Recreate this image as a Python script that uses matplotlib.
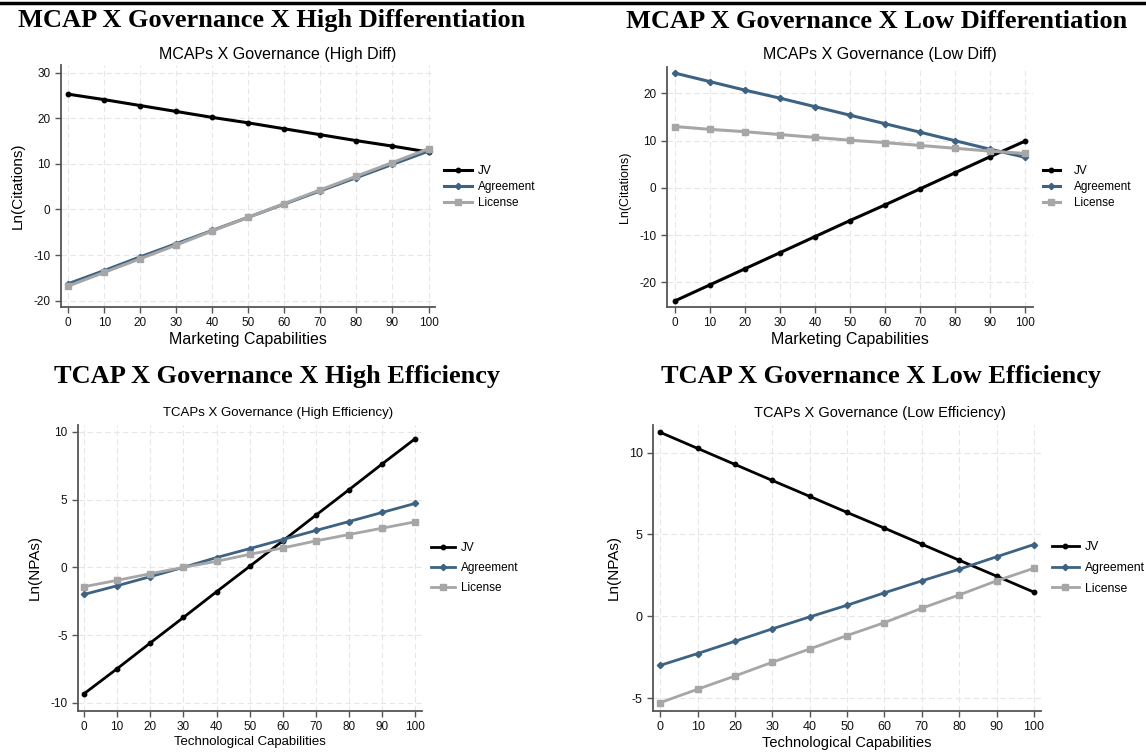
#!/usr/bin/env python3

import matplotlib
matplotlib.use("Agg")
import matplotlib.pyplot as plt
from matplotlib import font_manager
from matplotlib.lines import Line2D

x = [0, 10, 20, 30, 40, 50, 60, 70, 80, 90, 100]

# MCAP x Governance, high differentiation
hd_jv = [25.3, 24.1, 22.8, 21.5, 20.2, 19.0, 17.7, 16.4, 15.1, 13.9, 12.6]
hd_agreement = [-16.3, -13.4, -10.4, -7.5, -4.6, -1.7, 1.2, 4.1, 7.0, 9.9, 12.8]
hd_license = [-16.8, -13.8, -10.8, -7.8, -4.7, -1.7, 1.3, 4.3, 7.3, 10.3, 13.3]

# MCAP x Governance, low differentiation
ld_jv = [-23.9, -20.5, -17.1, -13.7, -10.3, -6.9, -3.6, -0.2, 3.2, 6.6, 9.9]
ld_agreement = [24.3, 22.5, 20.7, 19.0, 17.2, 15.4, 13.6, 11.8, 10.0, 8.2, 6.5]
ld_license = [13.0, 12.4, 11.9, 11.3, 10.7, 10.1, 9.6, 9.0, 8.4, 7.8, 7.3]

# TCAP x Governance, high efficiency
he_jv = [-9.33, -7.48, -5.58, -3.70, -1.80, 0.07, 1.95, 3.85, 5.73, 7.63, 9.5]
he_agreement = [-2.0, -1.36, -0.69, 0.0, 0.72, 1.38, 2.05, 2.72, 3.38, 4.05, 4.72]
he_license = [-1.43, -0.96, -0.47, 0.0, 0.44, 0.96, 1.43, 1.95, 2.42, 2.89, 3.36]

# TCAP x Governance, low efficiency
le_jv = [11.23, 10.25, 9.27, 8.29, 7.32, 6.34, 5.38, 4.40, 3.42, 2.45, 1.47]
le_agreement = [-3.0, -2.28, -1.53, -0.77, -0.04, 0.67, 1.43, 2.16, 2.87, 3.63, 4.38]
le_license = [-5.28, -4.46, -3.65, -2.81, -2.0, -1.18, -0.39, 0.49, 1.30, 2.16, 2.93]

labels = ["JV", "Agreement", "License"]
colors = ["#000000", "#3e6382", "#a6a6a6"]
markers = ["o", "D", "s"]

names = {f.name for f in font_manager.fontManager.ttflist}
sans = "Liberation Sans" if "Liberation Sans" in names else "DejaVu Sans"
serif = "Liberation Serif" if "Liberation Serif" in names else "DejaVu Serif"

plt.rcParams["axes.unicode_minus"] = False

W, H = 1146, 753
fig = plt.figure(figsize=(W / 100, H / 100), dpi=100)


def fx(px):
	return px / W


def fy(py):
	return 1 - py / H


def panel(rect, xlim, ylim, yticks, series, title, title_xy, xlabel, ylabel,
		tick_fs, lab_fs, ylab_fs, title_fs, leg_fs, leg_xy, handlelen, textpad,
		labspace, lw):
	l, t, r, b = rect
	ax = fig.add_axes([fx(l), fy(b), fx(r - l), (b - t) / H])
	for ys, lab, c, m in zip(series, labels, colors, markers):
		ms = {"o": 3.2, "D": 3.2, "s": 4.0}[m]
		ax.plot(x, ys, color=c, marker=m, markersize=ms, lw=lw, label=lab)
	ax.set_xlim(*xlim)
	ax.set_ylim(*ylim)
	ax.set_xticks(x)
	ax.set_yticks(yticks)
	ax.grid(True, color="#e6e6e6", linestyle=(0, (5, 3)), linewidth=0.8)
	ax.set_axisbelow(True)
	for s in ["top", "right"]:
		ax.spines[s].set_visible(False)
	for s in ["left", "bottom"]:
		ax.spines[s].set_color("#555555")
		ax.spines[s].set_linewidth(1.3)
	ax.tick_params(colors="#555555", length=4, width=1, labelcolor="#111111")
	for tl in ax.get_xticklabels() + ax.get_yticklabels():
		tl.set_fontfamily(sans)
		tl.set_fontsize(tick_fs)
	ax.set_xlabel(xlabel, fontsize=lab_fs, family=sans, labelpad=2)
	ax.set_ylabel(ylabel, fontsize=ylab_fs, family=sans, labelpad=6)
	fig.text(fx(title_xy[0]), fy(title_xy[1]), title, ha="center", va="center",
		fontsize=title_fs, family=sans)
	ax.legend(loc="center left", bbox_to_anchor=(fx(leg_xy[0]), fy(leg_xy[1])),
		bbox_transform=fig.transFigure, frameon=False, borderpad=0, borderaxespad=0,
		handlelength=handlelen, handletextpad=textpad, labelspacing=labspace,
		prop={"family": sans, "size": leg_fs})
	return ax


panel((61, 65, 435, 307), (-2, 101.8), (-21.4, 31.7), [-20, -10, 0, 10, 20, 30],
	[hd_jv, hd_agreement, hd_license], "MCAPs X Governance (High Diff)", (278, 55),
	"Marketing Capabilities", "Ln(Citations)", 8.5, 11.5, 11, 11.5, 8.5,
	(444, 187), 2.4, 0.5, 0.35, 2.2)

panel((667, 67, 1033, 307), (-2.3, 102.3), (-25.2, 25.6), [-20, -10, 0, 10, 20],
	[ld_jv, ld_agreement, ld_license], "MCAPs X Governance (Low Diff)", (880, 55),
	"Marketing Capabilities", "Ln(Citations)", 8.5, 11.5, 9, 11.5, 8.5,
	(1043, 187), 1.4, 1.2, 0.35, 2.2)

panel((78, 425, 422, 711), (-1.8, 102), (-10.6, 10.5), [-10, -5, 0, 5, 10],
	[he_jv, he_agreement, he_license], "TCAPs X Governance (High Efficiency)", (278, 413),
	"Technological Capabilities", "Ln(NPAs)", 8.5, 9.5, 11, 9.5, 8.5,
	(431, 568), 2.0, 0.5, 0.7, 2.0)

panel((653, 425, 1041, 711), (-1.95, 101.9), (-5.79, 11.68), [-5, 0, 5, 10],
	[le_jv, le_agreement, le_license], "TCAPs X Governance (Low Efficiency)", (880, 413),
	"Technological Capabilities", "Ln(NPAs)", 9, 10.5, 11, 10.5, 8.8,
	(1052, 568), 2.2, 0.5, 0.7, 2.0)

big = [
	("MCAP X Governance X High Differentiation", 272, 21),
	("MCAP X Governance X Low Differentiation", 877, 21),
	("TCAP X Governance X High Efficiency", 277, 377),
	("TCAP X Governance X Low Efficiency", 881, 377),
]
for txt, cx, cy in big:
	fig.text(fx(cx), fy(cy), txt, ha="center", va="center", fontsize=19,
		fontweight="bold", family=serif)

fig.add_artist(Line2D([0, 1], [fy(3), fy(3)], transform=fig.transFigure,
	color="black", lw=2.5))

fig.savefig("out.png", dpi=100)
